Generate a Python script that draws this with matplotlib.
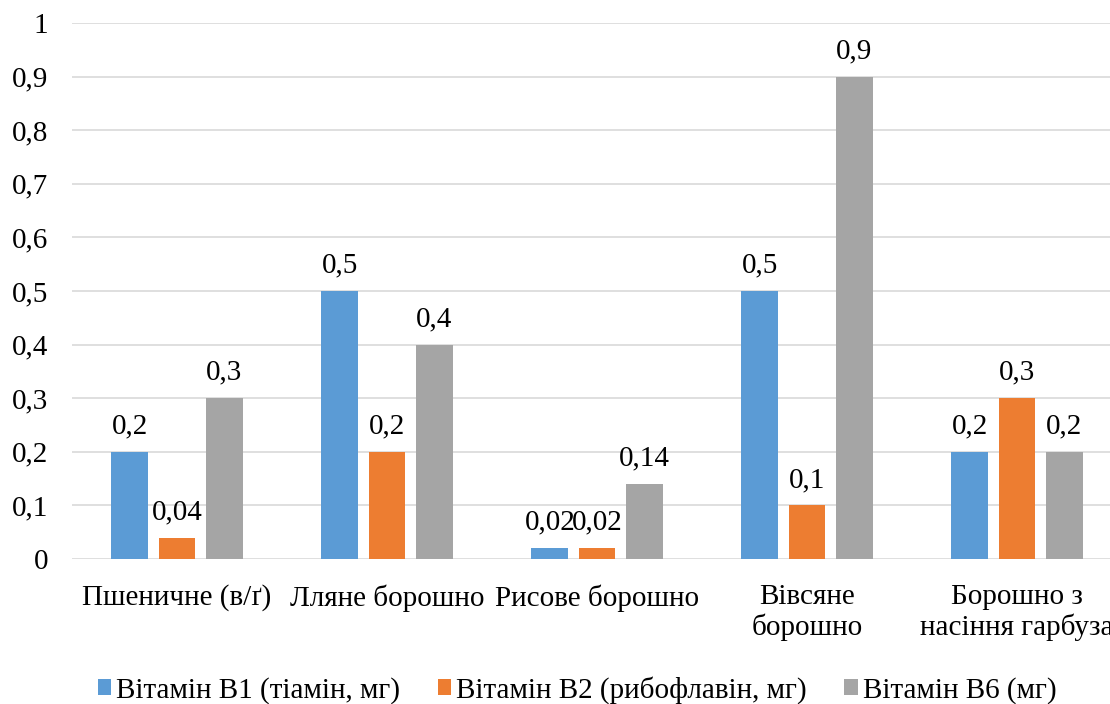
import matplotlib
matplotlib.use("Agg")
import matplotlib.pyplot as plt
import numpy as np

categories = ["Пшеничне (в/ґ)", "Лляне борошно", "Рисове борошно",
              "Вівсяне\nборошно", "Борошно з\nнасіння гарбуза"]
series_names = ["Вітамін В1 (тіамін, мг)", "Вітамін В2 (рибофлавін, мг)", "Вітамін В6 (мг)"]
vit_b1 = [0.2, 0.5, 0.02, 0.5, 0.2]
vit_b2 = [0.04, 0.2, 0.02, 0.1, 0.3]
vit_b6 = [0.3, 0.4, 0.14, 0.9, 0.2]
y_ticks = [0, 0.1, 0.2, 0.3, 0.4, 0.5, 0.6, 0.7, 0.8, 0.9, 1.0]

colors = ["#5B9BD5", "#ED7D31", "#A5A5A5"]

plt.rcParams["font.family"] = ["Liberation Serif", "DejaVu Serif"]
FS = 21

W, H = 1110, 704
fig = plt.figure(figsize=(W / 100, H / 100), dpi=100)
left, right = 72, 1122
top, bottom = 23, 559
ax = fig.add_axes([left / W, 1 - bottom / H, (right - left) / W, (bottom - top) / H])

def fmt(v):
    s = f"{v:g}"
    return s.replace(".", ",")

x = np.arange(len(categories))
offset = 0.224
width = 0.176
for i, (vals, name, c) in enumerate(zip([vit_b1, vit_b2, vit_b6], series_names, colors)):
    pos = x + (i - 1) * offset
    ax.bar(pos, vals, width=width, color=c, label=name, zorder=3)
    for xp, v in zip(pos, vals):
        ax.annotate(fmt(v), (xp, v), xytext=(0, 9), textcoords="offset points",
                    ha="center", va="bottom", fontsize=FS, color="#000000")

ax.set_xlim(-0.5, len(categories) - 0.5)
ax.set_ylim(0, 1.0)
ax.set_yticks(y_ticks)
ax.set_yticklabels([fmt(t) for t in y_ticks], fontsize=FS)
ax.set_xticks(x)
ax.set_xticklabels(categories, fontsize=FS, linespacing=1.15, va="top")
ax.tick_params(axis="both", length=0)
ax.tick_params(axis="y", pad=17)
ax.tick_params(axis="x", pad=18)
ax.yaxis.grid(True, color="#D9D9D9", linewidth=1.2, zorder=0)
ax.set_axisbelow(True)
for s in ax.spines.values():
    s.set_visible(False)

fig.legend(loc="center", bbox_to_anchor=(577 / W, 1 - 690 / H), ncol=3, frameon=False,
           fontsize=FS, handlelength=0.45, handleheight=0.45, handletextpad=0.17,
           columnspacing=1.3)

fig.savefig("out.png", dpi=100)
